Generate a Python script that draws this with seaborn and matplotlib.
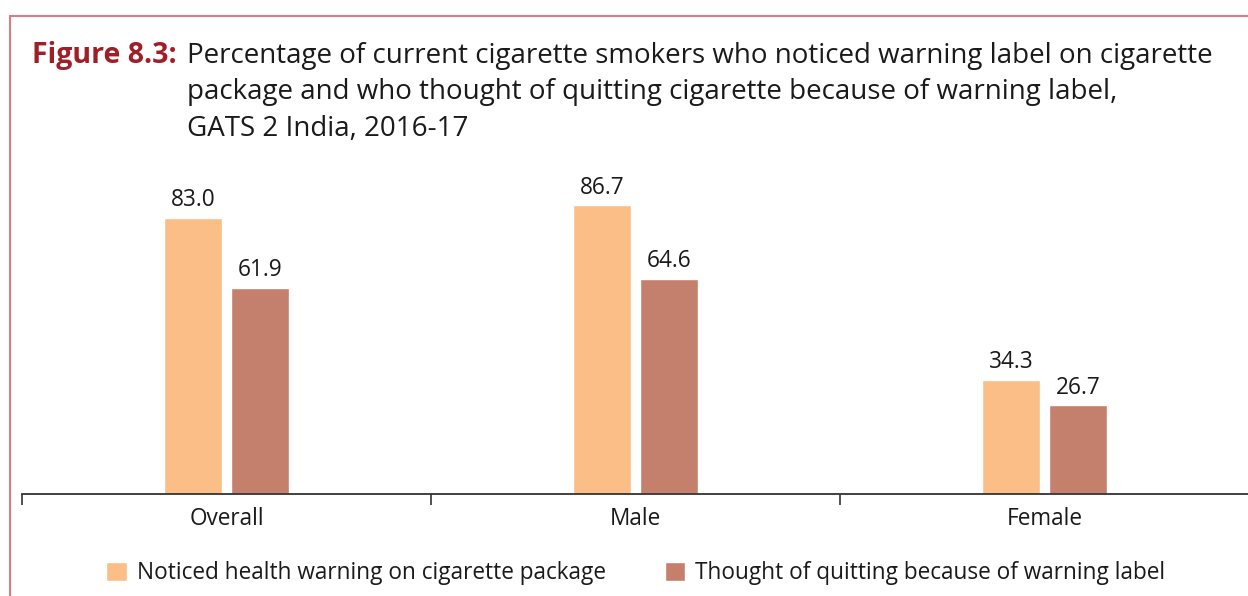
import matplotlib
matplotlib.use("Agg")
import matplotlib.pyplot as plt
from matplotlib.patches import Rectangle
import pandas as pd
import seaborn as sns

# Data
categories = ["Overall", "Male", "Female"]
noticed = [83.0, 86.7, 34.3]
thought_quit = [61.9, 64.6, 26.7]
series_names = [
    "Noticed health warning on cigarette package",
    "Thought of quitting because of warning label",
]

df = pd.DataFrame({
    "Group": categories * 2,
    "Value": noticed + thought_quit,
    "Series": [series_names[0]] * 3 + [series_names[1]] * 3,
})

sns.set_theme(style="white")
plt.rcParams["font.family"] = ["Open Sans", "DejaVu Sans"]

colors = ["#FBBE87", "#C4806C"]
text_color = "#1a1a1a"
fs = 16.3

W, H = 1248, 596
fig = plt.figure(figsize=(W / 100, H / 100), dpi=100)

# Plot area: x-axis baseline at y=494 px, 0..100 spans 333 px
ax = fig.add_axes([22 / W, 1 - 494 / H, 1227 / W, 333 / H])

sns.barplot(
    data=df, x="Group", y="Value", hue="Series", order=categories,
    hue_order=series_names, palette=colors, width=0.328, gap=0.134,
    saturation=1, ax=ax, legend=True,
)

ax.set_xlim(-0.5, 2.5)
ax.set_ylim(0, 100)
ax.set_xlabel("")
ax.set_ylabel("")
ax.set_yticks([])
for side in ["top", "right", "left"]:
    ax.spines[side].set_visible(False)
ax.spines["bottom"].set_color("#333333")
ax.spines["bottom"].set_linewidth(1.3)

# Category labels centred, boundary ticks between groups
ax.set_xticks(range(len(categories)))
ax.set_xticklabels(categories, fontsize=fs, color=text_color)
ax.tick_params(axis="x", which="major", length=0, pad=9.5)
ax.set_xticks([-0.5, 0.5, 1.5, 2.5], minor=True)
ax.tick_params(axis="x", which="minor", bottom=True, length=8, width=1.2,
               color="#333333", direction="out")

for cont in ax.containers:
    ax.bar_label(cont, fmt="%.1f", padding=4, fontsize=fs, color=text_color)

handles, labels = ax.get_legend_handles_labels()
ax.legend_.remove()
fig.legend(
    handles, labels, loc="center", bbox_to_anchor=(636 / W, 1 - 573 / H),
    ncol=2, frameon=False, fontsize=fs, handlelength=0.9, handleheight=0.9,
    handletextpad=0.45, columnspacing=2.6, labelcolor=text_color,
)

# Title block
fig.text(32 / W, 1 - 56 / H, "Figure 8.3:", fontsize=20.5, fontweight="bold",
         color="#A01E25", va="center", ha="left")
title_lines = [
    "Percentage of current cigarette smokers who noticed warning label on cigarette",
    "package and who thought of quitting cigarette because of warning label,",
    "GATS 2 India, 2016-17",
]
for i, line in enumerate(title_lines):
    fig.text(187 / W, 1 - (56 + 36.5 * i) / H, line, fontsize=20,
             color=text_color, va="center", ha="left")

# Frame around the figure panel
fig.patches.append(Rectangle((10 / W, -0.1), 1.2, 1 - 16 / H + 0.1,
                             transform=fig.transFigure, fill=False,
                             edgecolor="#D27F88", linewidth=1.5))

fig.savefig("out.png", dpi=100)
